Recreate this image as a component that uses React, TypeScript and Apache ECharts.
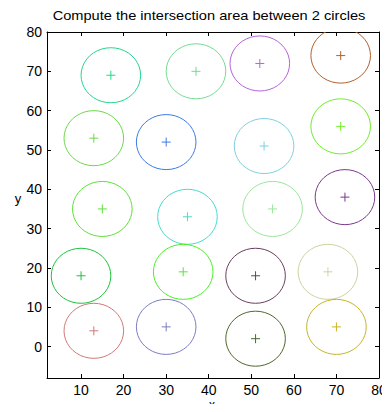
import React, { useEffect, useRef } from "react";
import * as echarts from "echarts";

const TITLE = "Compute the intersection area between 2 circles";
const X_NAME = "x";
const Y_NAME = "y";
const centerX = [17, 37, 52, 71, 13, 30, 53, 71, 15, 35, 55, 72, 10, 34, 51, 68, 13, 30, 51, 70];
const centerY = [69, 70, 72, 74, 53, 52, 51, 56, 35, 33, 35, 38, 18, 19, 18, 19, 4, 5, 2, 5];
const radius = [7, 7, 7, 7, 7, 7, 7, 7, 7, 7, 7, 7, 7, 7, 7, 7, 7, 7, 7, 7];
const palette = [
  "#1fd98c", "#74dc94", "#b365d9", "#b4602e",
  "#6bd94b", "#3b7be6", "#7fcfe0", "#70ee2a",
  "#5ee23a", "#45dcd0", "#9ce69c", "#7a3a8c",
  "#1ec23e", "#4cee2a", "#6a3e5e", "#cdd3a0",
  "#d07a78", "#7a7ec4", "#4a6a2a", "#c8b42a",
];
const xTicks = [10, 20, 30, 40, 50, 60, 70, 80];
const yTicks = [0, 10, 20, 30, 40, 50, 60, 70, 80];
const X_MIN = 2, X_MAX = 80, Y_MIN = -8, Y_MAX = 80;

export default function App() {
  const ref = useRef<HTMLDivElement>(null);
  useEffect(() => {
    if (!ref.current) return;
    const chart = echarts.init(ref.current, undefined, { renderer: "svg" });
    const data = centerX.map((x, i) => [x, centerY[i], radius[i], i]);
    const font = "Liberation Sans, Arial, sans-serif";
    const axisCommon = {
      axisLine: { show: true, onZero: false, lineStyle: { color: "#000", width: 1 } },
      splitLine: { show: false },
    };
    const tick = (vals: number[]) => ({
      show: true, inside: true, length: 4, customValues: vals, lineStyle: { color: "#000" },
    });
    chart.setOption({
      animation: false,
      backgroundColor: "#fff",
      graphic: [
        {
          type: "text",
          x: 209,
          y: 16,
          scaleX: 1.17,
          style: {
            text: TITLE, fontFamily: font, fontSize: 12.5, fill: "#000",
            align: "center", verticalAlign: "middle",
          },
        },
        {
          type: "text",
          x: 212,
          y: 405,
          style: {
            text: X_NAME, fontFamily: font, fontSize: 12, fill: "#000",
            align: "center", verticalAlign: "middle",
          },
        },
        {
          type: "text",
          x: 18,
          y: 198,
          style: {
            text: Y_NAME, fontFamily: font, fontSize: 13, fill: "#000",
            align: "center", verticalAlign: "middle",
          },
        },
      ],
      grid: { left: 47, right: 11, top: 32, bottom: 34, containLabel: false, outerBoundsMode: "none" },
      xAxis: [
        {
          type: "value", min: X_MIN, max: X_MAX, position: "bottom",
          ...axisCommon,
          axisTick: tick(xTicks),
          axisLabel: { customValues: xTicks, fontFamily: font, fontSize: 14, color: "#000", margin: 5, showMaxLabel: true },
        },
        {
          type: "value", min: X_MIN, max: X_MAX, position: "top",
          ...axisCommon,
          axisTick: tick(xTicks),
          axisLabel: { show: false },
        },
      ],
      yAxis: [
        {
          type: "value", min: Y_MIN, max: Y_MAX, position: "left",
          ...axisCommon,
          axisTick: tick(yTicks),
          axisLabel: { customValues: yTicks, fontFamily: font, fontSize: 14, color: "#000", margin: 5 },
        },
        {
          type: "value", min: Y_MIN, max: Y_MAX, position: "right",
          ...axisCommon,
          axisTick: tick(yTicks),
          axisLabel: { show: false },
        },
      ],
      series: [
        {
          type: "custom",
          clip: true,
          data,
          renderItem: (params: any, api: any) => {
            const cx = api.value(0), cy = api.value(1), r = api.value(2), idx = api.value(3);
            const color = palette[idx];
            const pts: number[][] = [];
            const N = 40;
            for (let k = 0; k <= N; k++) {
              const t = (2 * Math.PI * k) / N;
              pts.push(api.coord([cx + r * Math.cos(t), cy + r * Math.sin(t)]));
            }
            const c = api.coord([cx, cy]);
            const h = 4.5;
            return {
              type: "group",
              children: [
                { type: "polyline", shape: { points: pts }, style: { stroke: color, lineWidth: 1, fill: "none" } },
                { type: "line", shape: { x1: c[0] - h, y1: c[1], x2: c[0] + h, y2: c[1] }, style: { stroke: color, lineWidth: 1 } },
                { type: "line", shape: { x1: c[0], y1: c[1] - h, x2: c[0], y2: c[1] + h }, style: { stroke: color, lineWidth: 1 } },
              ],
            };
          },
        },
      ],
    });
    return () => chart.dispose();
  }, []);
  return <div ref={ref} style={{ width: 390, height: 412, margin: -8 }} />;
}
